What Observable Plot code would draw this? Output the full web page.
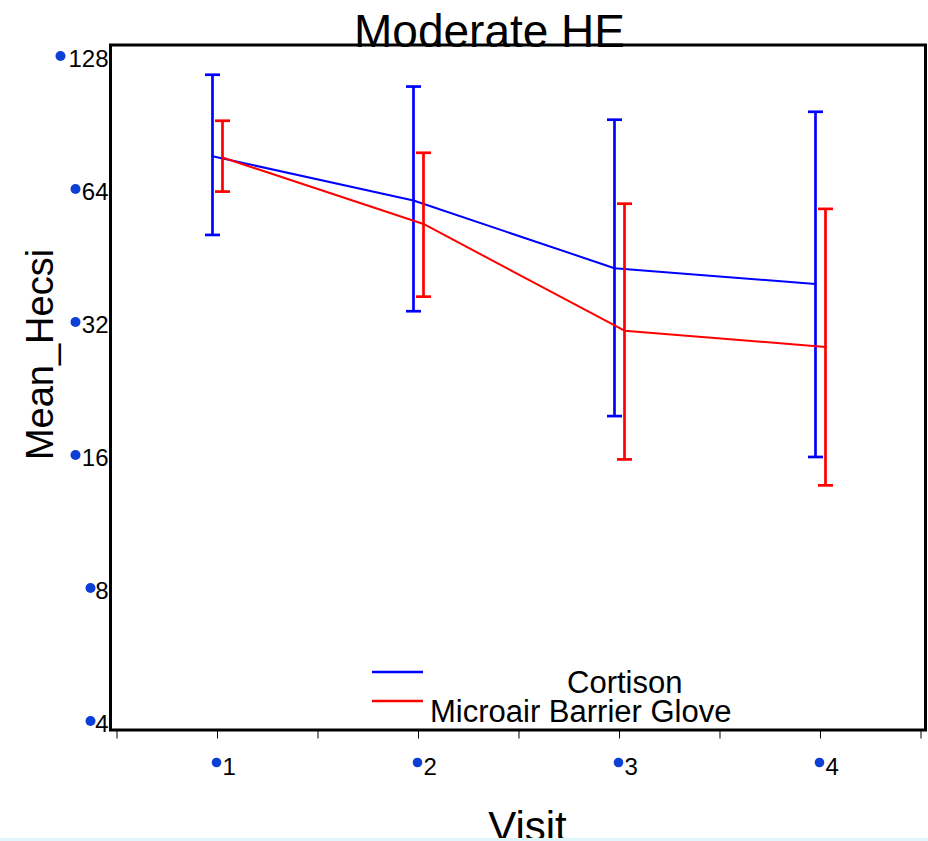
<!DOCTYPE html>
<html>
<head>
<meta charset="utf-8">
<script src="https://cdn.jsdelivr.net/npm/d3@7"></script>
<script src="https://cdn.jsdelivr.net/npm/@observablehq/plot@0.6"></script>
<style>
  html, body { margin: 0; padding: 0; background: #dff7fa; }
  #wrap { position: relative; width: 928px; height: 838px; background: #ffffff; overflow: hidden; }
  #wrap svg { overflow: hidden; font-family: "Liberation Sans", Arial, Helvetica, sans-serif; }
  #legend { position: absolute; left: 0; top: 0; pointer-events: none; }
</style>
</head>
<body>
<div id="wrap"></div>
<script>
// ---- data ----
const visits = [1, 2, 3, 4];
const seriesNames = ["Cortison", "Microair Barrier Glove"];
const seriesColors = ["#0000ff", "#ff0000"];

const cortisonMean = [76.7, 60.9, 42.8, 39.4];
const cortisonLow  = [50.9, 34.2, 19.8, 16.0];
const cortisonHigh = [117.3, 110.3, 92.8, 96.7];

const gloveMean = [76.2, 53.9, 30.9, 28.4];
const gloveLow  = [63.8, 36.9, 15.8, 13.8];
const gloveHigh = [92.3, 78.1, 59.9, 58.3];

const yTicks = [4, 8, 16, 32, 64, 128];
const xMinorTicks = [0.5, 1, 1.5, 2, 2.5, 3, 3.5, 4, 4.5];
const xTickLabels = [1, 2, 3, 4];

const titleText = "Moderate HE";
const xLabel = "Visit";
const yLabel = "Mean_Hecsi";

// ---- build tables ----
function table(mean, low, high) {
  return visits.map((v, i) => ({visit: v, mean: mean[i], low: low[i], high: high[i]}));
}
const seriesData = [
  table(cortisonMean, cortisonLow, cortisonHigh),
  table(gloveMean, gloveLow, gloveHigh)
];
const seriesDx = [-5, 5];
const dotColor = "#0b3fd6";
const font = "'Liberation Sans', Arial, Helvetica, sans-serif";

const capSymbol = {
  draw(ctx, size) {
    const w = Math.sqrt(size / Math.PI);
    ctx.moveTo(-w, 0);
    ctx.lineTo(w, 0);
  }
};

const marks = [];
seriesData.forEach((data, k) => {
  const stroke = seriesColors[k];
  const dx = seriesDx[k];
  marks.push(
    Plot.ruleX(data, {x: "visit", y1: "low", y2: "high", stroke, strokeWidth: 2.7, dx}),
    Plot.dot(data, {x: "visit", y: "high", symbol: capSymbol, r: 7.5, fill: "none", stroke, strokeWidth: 2.7, dx}),
    Plot.dot(data, {x: "visit", y: "low", symbol: capSymbol, r: 7.5, fill: "none", stroke, strokeWidth: 2.7, dx}),
    Plot.line(data, {x: "visit", y: "mean", stroke, strokeWidth: 2, dx})
  );
});

// y axis labels + blue dots
marks.push(
  Plot.axisY({ticks: yTicks, tickSize: 0, tickPadding: 2, tickFormat: d3.format("d"),
              fontSize: 24, label: null, dy: 1.5, fill: "black"})
);
const lens = Array.from(new Set(yTicks.map(t => String(t).length)));
lens.forEach(len => {
  marks.push(Plot.dot(yTicks.filter(t => String(t).length === len),
    {y: d => d, frameAnchor: "left", dx: -(5 + 15 * len), dy: -2, r: 5, fill: dotColor}));
});

// x axis ticks, labels, dots
marks.push(
  Plot.axisX({ticks: xMinorTicks, tickSize: 9, stroke: "black", strokeWidth: 1, fill: "none", label: null}),
  Plot.axisX({ticks: xTickLabels, tickSize: 0, tickPadding: 27.5, textAnchor: "start",
              dx: 5, fontSize: 24, tickFormat: d3.format("d"), fill: "black", label: null}),
  Plot.dot(xTickLabels, {x: d => d, frameAnchor: "bottom", dy: 32.5, dx: -1, r: 4.8, fill: dotColor})
);

// titles
marks.push(
  Plot.text([titleText], {text: d => d, frameAnchor: "top", textAnchor: "middle", dx: -28.5, dy: 2.2, lineAnchor: "bottom", fontSize: 46, fill: "black"}),
  Plot.text([yLabel], {text: d => d, frameAnchor: "left", textAnchor: "middle", rotate: -90, dx: -58, dy: -33, lineAnchor: "bottom", fontSize: 38, fill: "black"}),
  Plot.text([xLabel], {text: d => d, frameAnchor: "bottom", textAnchor: "middle", dx: 9.5, dy: 110.5, lineAnchor: "bottom", fontSize: 42, fill: "black"}),
  Plot.frame({stroke: "black", strokeWidth: 3})
);

const chart = Plot.plot({
  width: 928,
  height: 838,
  marginTop: 44.5,
  marginBottom: 108.5,
  marginLeft: 110,
  marginRight: 3,
  style: {fontFamily: font, background: "white", color: "black"},
  x: {type: "linear", domain: [0.4677, 4.5224]},
  y: {type: "log", base: 2, domain: [3.856, 136.97]},
  marks
});
document.getElementById("wrap").appendChild(chart);

// ---- legend overlay (inside the frame, lower middle) ----
const legendLayout = [
  {swatchY: 672, textX: 567, baseline: 693},
  {swatchY: 701, textX: 430, baseline: 722}
];
const lg = d3.select("#wrap").append("svg")
  .attr("id", "legend").attr("width", 928).attr("height", 838);
seriesNames.forEach((name, k) => {
  const L = legendLayout[k];
  lg.append("line").attr("x1", 372).attr("x2", 423).attr("y1", L.swatchY).attr("y2", L.swatchY)
    .attr("stroke", seriesColors[k]).attr("stroke-width", 2.7);
  lg.append("text").attr("x", L.textX).attr("y", L.baseline)
    .attr("font-family", font).attr("font-size", 31).attr("fill", "black").text(name);
});
</script>
</body>
</html>
